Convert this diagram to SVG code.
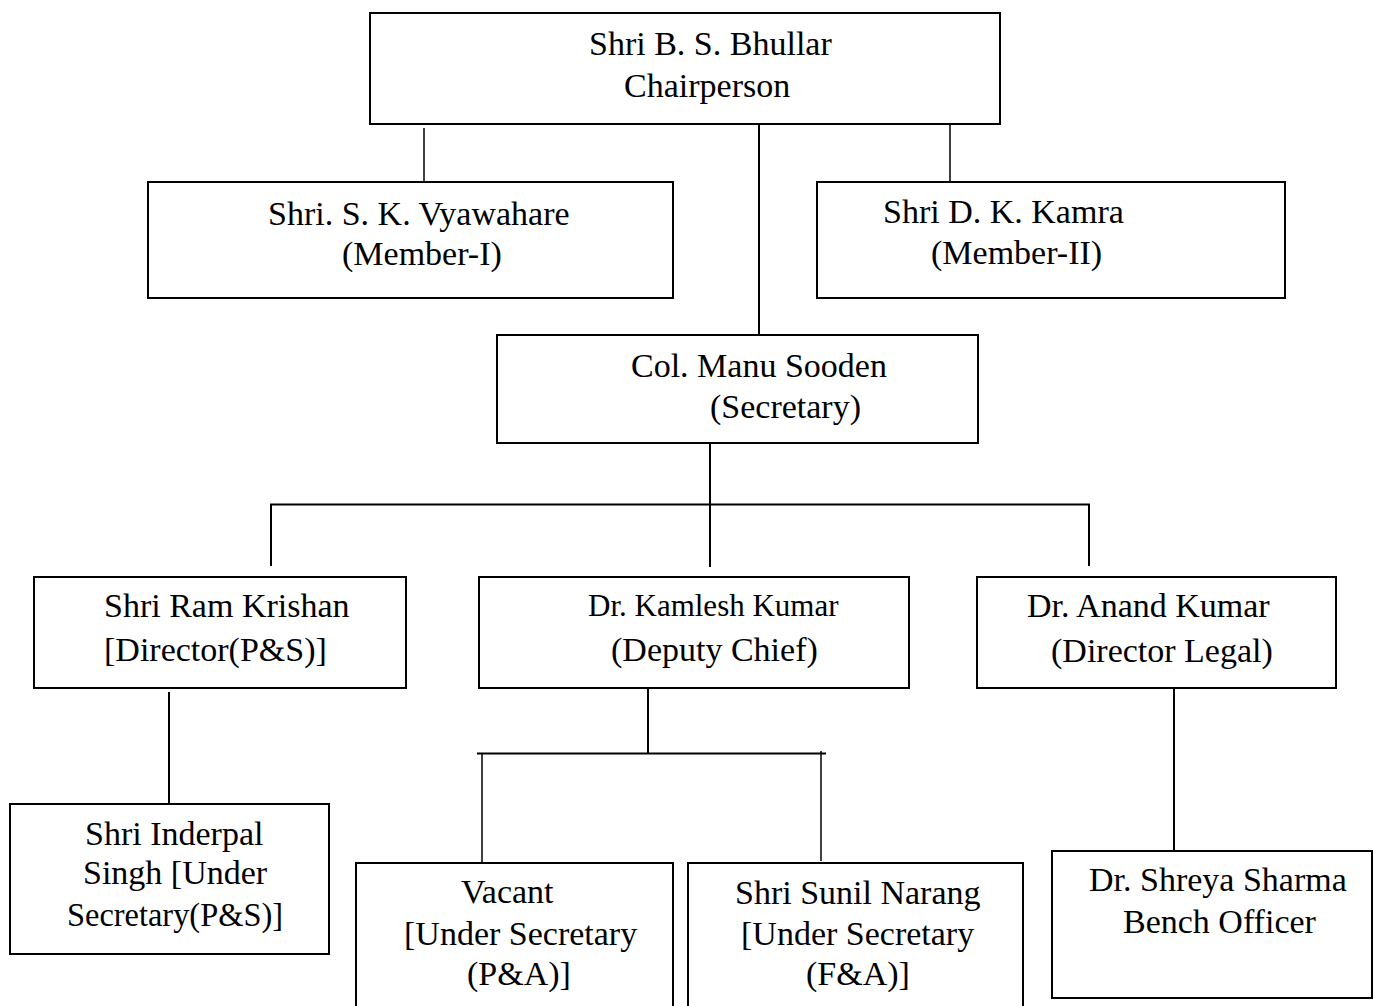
<svg xmlns="http://www.w3.org/2000/svg" width="1374" height="1006" viewBox="0 0 1374 1006">
<style>
.box{fill:#fff;stroke:#000;stroke-width:2}
.ln{stroke:#000;stroke-width:2;fill:none}
.thin{stroke:#000;stroke-width:1.5;fill:none}
text{font-family:"Liberation Serif","Times New Roman",serif;font-size:34px;fill:#000}
.sm{font-size:31px}
</style>
<rect width="1374" height="1006" fill="#fff"/>
<g id="connectors">
<line class="thin" x1="424" y1="128" x2="424" y2="188"/>
<line class="thin" x1="950" y1="124" x2="950" y2="186"/>
<line class="ln" x1="759" y1="124" x2="759" y2="342"/>
<line class="ln" x1="710" y1="443" x2="710" y2="567"/>
<polyline class="ln" points="271,566 271,504.5 1089,504.5 1089,566"/>
<line class="ln" x1="169" y1="692" x2="169" y2="804"/>
<line class="ln" x1="648" y1="685" x2="648" y2="753"/>
<line class="ln" x1="477" y1="753.5" x2="826" y2="753.5"/>
<line class="thin" x1="482" y1="754" x2="482" y2="863"/>
<line class="thin" x1="821" y1="751" x2="821" y2="861"/>
<line class="ln" x1="1174" y1="686" x2="1174" y2="851"/>
</g>
<g id="chair">
<rect class="box" x="370" y="13" width="630" height="111"/>
<text x="589" y="55">Shri B. S. Bhullar</text>
<text x="624" y="97">Chairperson</text>
</g>
<g id="member1">
<rect class="box" x="148" y="182" width="525" height="116"/>
<text x="268" y="225">Shri. S. K. Vyawahare</text>
<text x="342" y="265">(Member-I)</text>
</g>
<g id="member2">
<rect class="box" x="817" y="182" width="468" height="116"/>
<text x="883" y="223">Shri D. K. Kamra</text>
<text x="931" y="264">(Member-II)</text>
</g>
<g id="secretary">
<rect class="box" x="497" y="335" width="481" height="108"/>
<text x="631" y="377">Col. Manu Sooden</text>
<text x="710" y="418">(Secretary)</text>
</g>
<g id="ramkrishan">
<rect class="box" x="34" y="577" width="372" height="111"/>
<text x="104" y="617">Shri Ram Krishan</text>
<text x="104" y="661">[Director(P&amp;S)]</text>
</g>
<g id="kamlesh">
<rect class="box" x="479" y="577" width="430" height="111"/>
<text class="sm" x="588" y="616">Dr. Kamlesh Kumar</text>
<text x="611" y="661">(Deputy Chief)</text>
</g>
<g id="anand">
<rect class="box" x="977" y="577" width="359" height="111"/>
<text x="1027" y="617">Dr. Anand Kumar</text>
<text x="1051" y="662">(Director Legal)</text>
</g>
<g id="inderpal">
<rect class="box" x="10" y="804" width="319" height="150"/>
<text x="85" y="845">Shri Inderpal</text>
<text x="83" y="884">Singh [Under</text>
<text x="67" y="926" textLength="216" lengthAdjust="spacingAndGlyphs">Secretary(P&amp;S)]</text>
</g>
<g id="vacant">
<rect class="box" x="356" y="863" width="317" height="160"/>
<text x="461" y="903">Vacant</text>
<text x="404" y="945">[Under Secretary</text>
<text x="467" y="985">(P&amp;A)]</text>
</g>
<g id="sunil">
<rect class="box" x="688" y="863" width="335" height="160"/>
<text x="735" y="904">Shri Sunil Narang</text>
<text x="741" y="945">[Under Secretary</text>
<text x="806" y="985">(F&amp;A)]</text>
</g>
<g id="shreya">
<rect class="box" x="1052" y="851" width="320" height="147"/>
<text x="1089" y="891">Dr. Shreya Sharma</text>
<text x="1123" y="933">Bench Officer</text>
</g>
</svg>
